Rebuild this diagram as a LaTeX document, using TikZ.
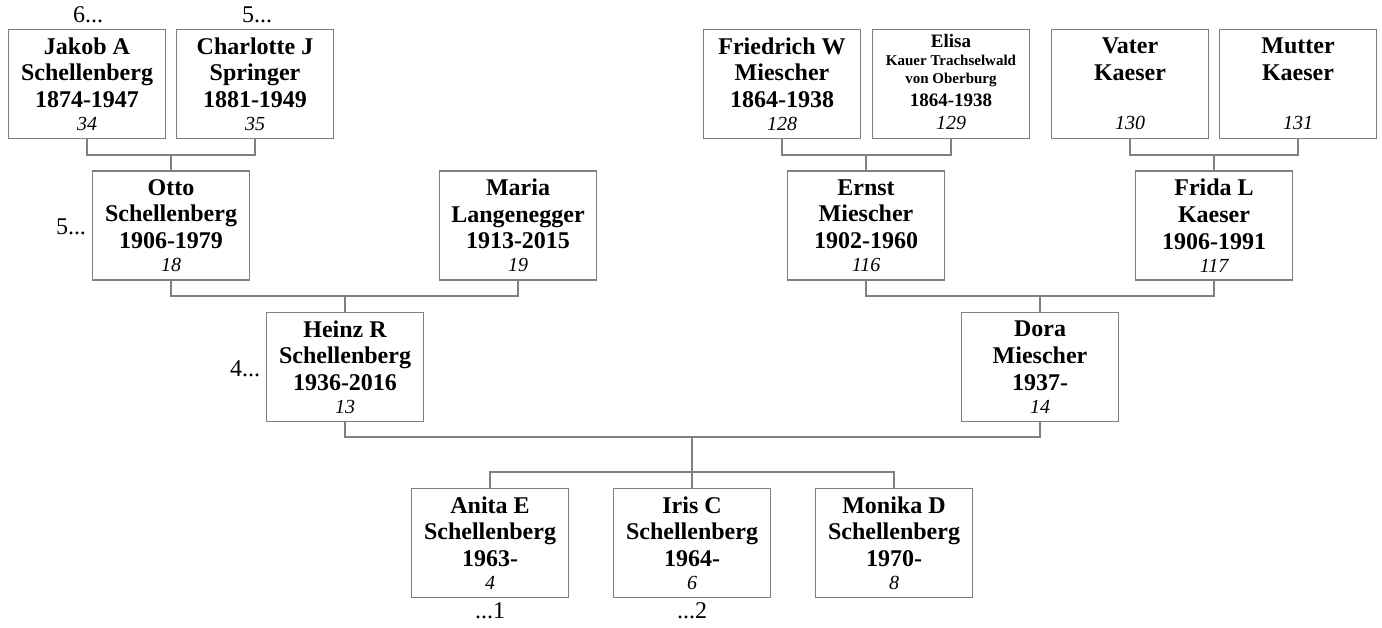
\documentclass[tikz,border=0pt]{standalone}
\usepackage{fontspec}
\setmainfont{Liberation Serif}
\usepackage{tikz}
\tikzset{person/.style={draw=gray, line width=1.3pt, minimum width=157pt, minimum height=109pt, inner sep=0pt, align=center, font=\fontsize{24}{26.7}\selectfont\bfseries}, link/.style={draw=gray, line width=1.3pt}, more/.style={anchor=base, font=\fontsize{24}{26.7}\selectfont}}
\newcommand{\persnr}[1]{{\fontsize{20}{26.7}\selectfont\mdseries\itshape #1}}
\newcommand{\smalline}[2]{{\fontsize{#1}{26.7}\selectfont #2}}

\begin{document}
\begin{tikzpicture}[x=1pt, y=-1pt]
\useasboundingbox (0,0) rectangle (1382,628);
% great-grandparents
\node[person] (jakob) at (87,84) {Jakob A\\Schellenberg\\1874-1947\\[-3.7pt]\persnr{34}};
\node[person] (charlotte) at (255,84) {Charlotte J\\Springer\\1881-1949\\[-3.7pt]\persnr{35}};
\node[person] (friedrich) at (782,84) {Friedrich W\\Miescher\\1864-1938\\[-3.7pt]\persnr{128}};
\node[person] (elisa) at (951,84) {\smalline{19}{Elisa}\\[-8.7pt]\smalline{15}{Kauer Trachselwald}\\[-8.7pt]\smalline{15}{von Oberburg}\\[-3.7pt]\smalline{19}{1864-1938}\\[-3.7pt]\persnr{129}\rule[-4pt]{0pt}{0pt}};
\node[person] (vater) at (1130,84) {Vater\\Kaeser\\[23pt]\persnr{130}};
\node[person] (mutter) at (1298,84) {Mutter\\Kaeser\\[23pt]\persnr{131}};
% grandparents
\node[person] (otto) at (171,225.5) {Otto\\Schellenberg\\1906-1979\\[-3.7pt]\persnr{18}};
\node[person] (maria) at (518,225.5) {Maria\\Langenegger\\1913-2015\\[-3.7pt]\persnr{19}};
\node[person] (ernst) at (866,225.5) {Ernst\\Miescher\\1902-1960\\[-3.7pt]\persnr{116}};
\node[person] (frida) at (1214,225.5) {Frida L\\Kaeser\\1906-1991\\[-3.7pt]\persnr{117}};
% parents
\node[person] (heinz) at (345,367) {Heinz R\\Schellenberg\\1936-2016\\[-3.7pt]\persnr{13}};
\node[person] (dora) at (1040,367) {Dora\\Miescher\\1937-\\[-3.7pt]\persnr{14}};
% children
\node[person] (anita) at (490,543) {Anita E\\Schellenberg\\1963-\\[-3.7pt]\persnr{4}};
\node[person] (iris) at (692,543) {Iris C\\Schellenberg\\1964-\\[-3.7pt]\persnr{6}};
\node[person] (monika) at (894,543) {Monika D\\Schellenberg\\1970-\\[-3.7pt]\persnr{8}};
% more generations
\node[more] (jakobup) at (88,23) {6...};
\node[more] (charlotteup) at (257,23) {5...};
\node[more] (ottoup) at (71,235) {5...};
\node[more] (heinzup) at (245,377) {4...};
\node[more] (anitadown) at (490,618) {...1};
\node[more] (irisdown) at (692,618) {...2};
% links
\coordinate (jc) at (171,155);
\coordinate (fc) at (866,155);
\coordinate (vc) at (1214,155);
\coordinate (oc) at (345,296);
\coordinate (ec) at (1040,296);
\coordinate (hc) at (692,437);
\coordinate (kc) at (692,472);
\draw[link] (jakob.south) |- (jc) -| (charlotte.south);
\draw[link] (jc) -- (otto.north);
\draw[link] (friedrich.south) |- (fc) -| (elisa.south);
\draw[link] (fc) -- (ernst.north);
\draw[link] (vater.south) |- (vc) -| (mutter.south);
\draw[link] (vc) -- (frida.north);
\draw[link] (otto.south) |- (oc) -| (maria.south);
\draw[link] (oc) -- (heinz.north);
\draw[link] (ernst.south) |- (ec) -| (frida.south);
\draw[link] (ec) -- (dora.north);
\draw[link] (heinz.south) |- (hc) -| (dora.south);
\draw[link] (hc) -- (kc);
\draw[link] (anita.north) |- (kc) -| (monika.north);
\draw[link] (kc) -- (iris.north);
\end{tikzpicture}
\end{document}
